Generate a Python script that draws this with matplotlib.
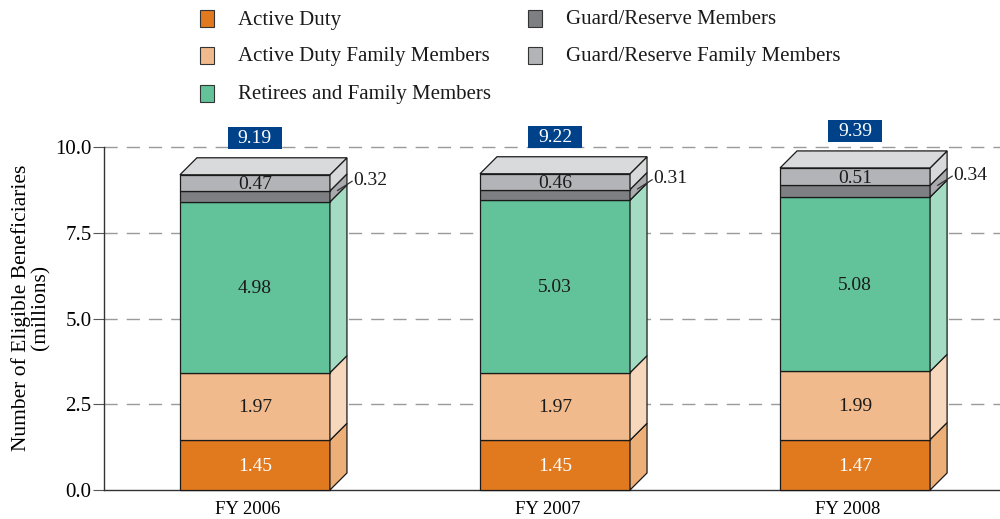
import matplotlib
matplotlib.use("Agg")
import matplotlib.pyplot as plt
import matplotlib.transforms as mtransforms
from matplotlib.patches import Polygon, Rectangle

years = ["FY 2006", "FY 2007", "FY 2008"]
series = ["Active Duty", "Active Duty Family Members", "Retirees and Family Members",
          "Guard/Reserve Members", "Guard/Reserve Family Members"]
active_duty = [1.45, 1.45, 1.47]
active_duty_family = [1.97, 1.97, 1.99]
retirees = [4.98, 5.03, 5.08]
guard_reserve = [0.32, 0.31, 0.34]
guard_reserve_family = [0.47, 0.46, 0.51]
totals = [9.19, 9.22, 9.39]
yticks = [0.0, 2.5, 5.0, 7.5, 10.0]

values = [active_duty, active_duty_family, retirees, guard_reserve, guard_reserve_family]
front_colors = ["#E17A1F", "#F0BA8C", "#62C39A", "#7E7F83", "#B3B4B8"]
side_colors = ["#EDAF78", "#F8D8BC", "#A4DCC3", "#A9AAAD", "#D8D9DB"]
top_color = "#D9DADC"
text_colors = ["white", "#1a1a1a", "#1a1a1a", None, "#1a1a1a"]
box_color = "#00428A"

plt.rcParams['font.family'] = ['Liberation Serif', 'DejaVu Serif']
FS = 14

fig = plt.figure(figsize=(10, 5.19), dpi=100)
ax = fig.add_axes([0.104, 29 / 519, 0.896, 343 / 519])
ax.set_xlim(-0.503, 2.483)
ax.set_ylim(0, 10)

W = 0.5
DX = 17 / 300
DY = 17 / 34.3
EC = "#1a1a1a"
LW = 0.9

for g in yticks[1:]:
    ax.axhline(g, color="#9a9a9a", lw=1.0, linestyle=(0, (9.5, 6.5)), zorder=0, clip_on=False)

for i in range(len(years)):
    x0, x1 = i - W / 2, i + W / 2
    bottom = 0.0
    for s in range(len(series)):
        v = values[s][i]
        top = bottom + v
        ax.add_patch(Rectangle((x0, bottom), W, v, facecolor=front_colors[s], edgecolor=EC,
                               lw=LW, zorder=3, clip_on=False))
        ax.add_patch(Polygon([(x1, bottom), (x1 + DX, bottom + DY), (x1 + DX, top + DY), (x1, top)],
                             closed=True, facecolor=side_colors[s], edgecolor=EC, lw=LW,
                             zorder=3, clip_on=False))
        mid = (bottom + top) / 2
        if text_colors[s] is not None:
            ax.text(i, mid - 0.04, f"{v:.2f}", ha="center", va="center", fontsize=FS,
                    color=text_colors[s], zorder=5)
        else:
            ax.plot([x1 + DX * 0.45, x1 + DX + 0.017], [mid + DY * 0.45 - 0.05, mid + 0.44],
                    color="#333333", lw=0.9, zorder=5, clip_on=False)
            ax.text(x1 + DX + 0.022, mid + 0.47, f"{v:.2f}", ha="left", va="center",
                    fontsize=FS, color="#1a1a1a", zorder=5, clip_on=False)
        bottom = top
    ax.add_patch(Polygon([(x0, bottom), (x0 + DX, bottom + DY), (x1 + DX, bottom + DY), (x1, bottom)],
                         closed=True, facecolor=top_color, edgecolor=EC, lw=LW, zorder=3,
                         clip_on=False))
    # total box
    bw, bh = 0.18, 0.64
    by = totals[i] + 0.75
    ax.add_patch(Rectangle((i - bw / 2, by), bw, bh, facecolor=box_color, edgecolor="none",
                           zorder=6, clip_on=False))
    ax.text(i, by + bh / 2, f"{totals[i]:.2f}", ha="center", va="center", fontsize=FS,
            color="white", zorder=7, clip_on=False)

ax.set_xticks(range(len(years)))
ax.set_xticklabels(years, fontsize=13.5)
ax.tick_params(axis="x", length=0, pad=8)
shift = mtransforms.ScaledTranslation(-7 / 100, 0, fig.dpi_scale_trans)
for lab in ax.get_xticklabels():
    lab.set_transform(lab.get_transform() + shift)
ax.set_yticks(yticks)
ax.set_yticklabels([f"{t:.1f}" for t in yticks], fontsize=15)
ax.tick_params(axis="y", length=8, width=0.8, color="#555555", pad=1)
for sp in ["top", "right"]:
    ax.spines[sp].set_visible(False)
ax.spines["left"].set_color("#333333")
ax.spines["bottom"].set_color("#333333")
ax.spines["left"].set_linewidth(1.0)
ax.spines["bottom"].set_linewidth(1.0)
ax.set_ylabel("Number of Eligible Beneficiaries\n(millions)", fontsize=15.5, linespacing=1.0)
ax.yaxis.set_label_coords(-0.0595, 0.532)

# legend (manual)
leg_pos = [(200, 18), (200, 55), (200, 93), (528, 18), (528, 55)]
for s, (px, py) in enumerate(leg_pos):
    fig.patches.append(Rectangle((px / 1000, 1 - (py + 8.5) / 519), 14 / 1000, 17 / 519,
                                 transform=fig.transFigure, facecolor=front_colors[s],
                                 edgecolor="#333333", lw=0.8))
    fig.text((px + 38) / 1000, 1 - (py + 2) / 519, series[s], ha="left", va="center",
             fontsize=15, color="#1a1a1a")

fig.savefig("out.png", dpi=100)
